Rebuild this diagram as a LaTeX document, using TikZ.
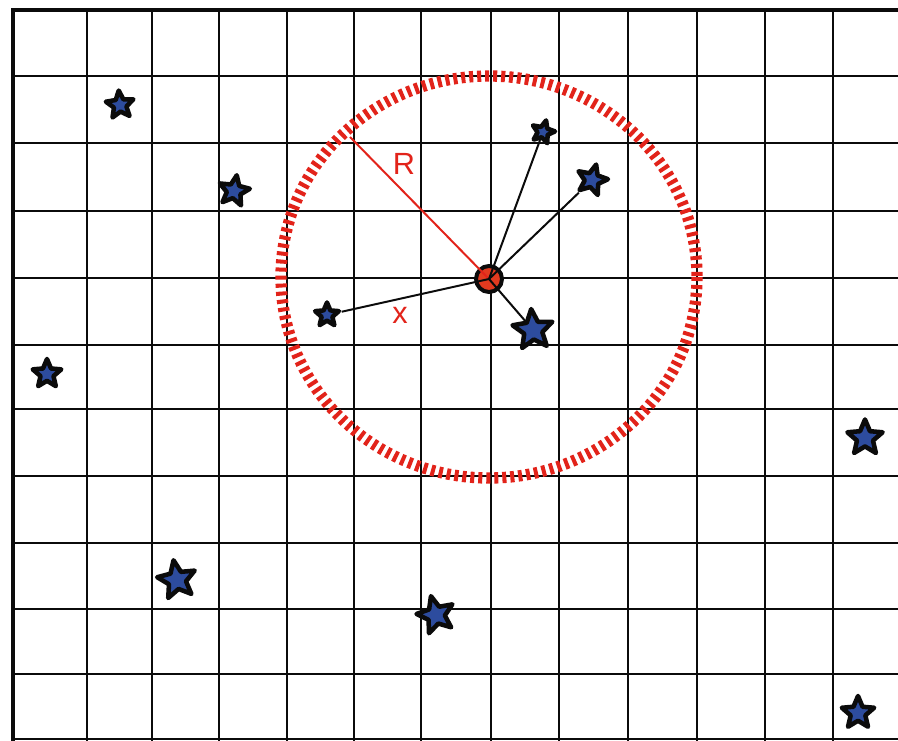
\documentclass[tikz,border=0pt]{standalone}
\usepackage{fontspec}
\setmainfont{Liberation Sans}
\usetikzlibrary{shapes.geometric}
\definecolor{ink}{HTML}{0B0B0B}
\definecolor{red1}{HTML}{E2231A}
\definecolor{dot1}{HTML}{E23A1F}
\definecolor{blue1}{HTML}{2D4C9E}

\begin{document}
\begin{tikzpicture}[x=0.75pt,y=-0.75pt,
  obj/.style={shape=star,star points=5,star point ratio=2.2,draw=ink,fill=blue1,line width=3.4pt,line join=round,inner sep=0pt,minimum size=0.75pt*#1},
  link/.style={ink,line width=1.5pt},
  lbl/.style={red1,font=\fontsize{23}{27}\selectfont,inner sep=0pt}]
  \useasboundingbox (0,0) rectangle (898,741);
  % grid, cells not quite even: positions
  \foreach \x in {87,152,219,354,421,491,833} \draw[ink,line width=1.7pt] (\x,10) -- (\x,741);
  \foreach \x in {287,559,628,697,765} \draw[ink,line width=2pt] (\x,10) -- (\x,741);
  \foreach \y in {76,211,476,674,739} \draw[ink,line width=1.7pt] (13,\y) -- (898,\y);
  \foreach \y in {143,278,345,409,543,609} \draw[ink,line width=2pt] (13,\y) -- (898,\y);
  \draw[ink,line width=3.2pt] (13,741) -- (13,10) -- (898,10);
  % search radius
  \draw[red1,line width=8.5pt,dash pattern=on 3pt off 3pt] (489,277) ellipse [x radius=208,y radius=201];
  % the stars
  \node[obj=29,rotate=5] (s1) at (120,105) {};
  \node[obj=32,rotate=-10] (s2) at (234,191) {};
  \node[obj=24,rotate=-15] (s3) at (543,132) {};
  \node[obj=32,rotate=-15] (s4) at (592,180) {};
  \node[obj=25] (s5) at (327,315) {};
  \node[obj=42,rotate=5] (s6) at (533,330) {};
  \node[obj=30] (s7) at (47,374) {};
  \node[obj=37] (s8) at (865,438) {};
  \node[obj=40,rotate=10] (s9) at (177,580) {};
  \node[obj=39,rotate=15] (s10) at (436,615) {};
  \node[obj=34] (s11) at (858,713) {};
  % probe and its neighbours inside R
  \node[circle,draw=ink,fill=dot1,line width=3pt,minimum size=0.75pt*26,inner sep=0pt] (ctr) at (489,279) {};
  \coordinate (rend) at (350,137);
  \draw[red1,line width=1.5pt] (ctr.center) -- (rend);
  \foreach \s in {s3,s4,s5,s6} \draw[link] (ctr.center) -- (\s);
  \node[lbl] (lR) at (404,164) {R};
  \node[lbl] (lx) at (400,315) {x};
\end{tikzpicture}
\end{document}
